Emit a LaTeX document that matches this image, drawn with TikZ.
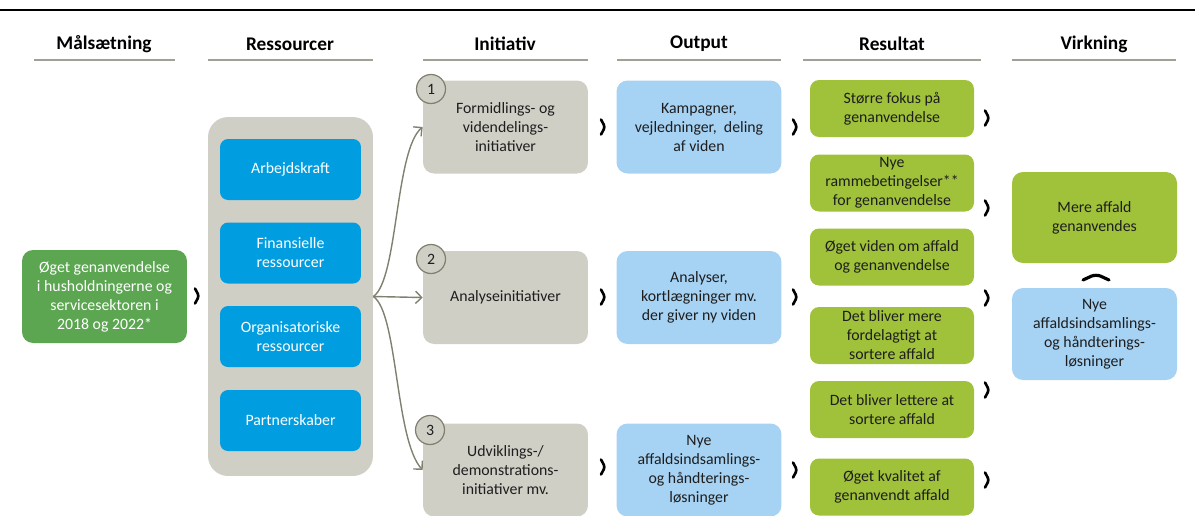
\documentclass[tikz,border=0pt]{standalone}
\usepackage{fontspec}
\setmainfont{Carlito}
\usepackage{xcolor}
\usepackage{tikz}
\usetikzlibrary{arrows.meta}

\definecolor{goalgreen}{RGB}{92,166,82}
\definecolor{boxgrey}{RGB}{208,207,198}
\definecolor{resblue}{RGB}{0,158,224}
\definecolor{outblue}{RGB}{166,210,244}
\definecolor{resgreen}{RGB}{160,193,58}
\definecolor{curvegrey}{RGB}{128,128,112}
\definecolor{rulegrey}{RGB}{160,160,150}
\definecolor{txt}{RGB}{30,30,30}

\tikzset{
  hdr/.style={font=\bfseries\fontsize{11}{13}\selectfont, text=black},
  hdrline/.style={rulegrey, line width=1.3pt},
  card/.style={rounded corners=0.22cm, align=center, inner sep=1pt,
    font=\fontsize{9}{10.8}\selectfont, text=txt, minimum width=3.3cm},
  goalbox/.style={card, fill=goalgreen, text=white, minimum height=1.86cm},
  resbox/.style={card, fill=resblue, text=white, minimum width=2.82cm, minimum height=1.22cm, rounded corners=0.16cm},
  initbox/.style={card, fill=boxgrey, minimum height=1.86cm},
  outbox/.style={card, fill=outblue, minimum height=1.86cm},
  resultbox/.style={card, fill=resgreen, minimum width=3.28cm, minimum height=1.14cm, rounded corners=0.18cm},
  numcirc/.style={circle, fill=boxgrey, draw=curvegrey, line width=0.7pt, minimum size=0.58cm, inner sep=0pt,
    font=\fontsize{9}{10}\selectfont, text=txt},
  fan/.style={curvegrey, line width=0.8pt, -{Straight Barb[length=3.5pt,width=7pt]}},
  chevline/.style={line width=1.5pt, line cap=round, rounded corners=1.5pt},
  pics/chev/.style={code={\draw[chevline] (-2,-7.5) -- (2,0) -- (-2,7.5);}},
  pics/caret/.style={code={\draw[chevline, line width=1.8pt, rounded corners=3pt] (-13,3) -- (0,-3) -- (13,3);}}
}

\begin{document}
\begin{tikzpicture}[x=0.02cm, y=-0.02cm]
\useasboundingbox (0,0) rectangle (1195,515);

\draw[line width=1.2pt] (0,10) -- (1195,10);

\node[hdr] (h1) at (104,44) {Målsætning};
\node[hdr] (h2) at (290,44) {Ressourcer};
\node[hdr] (h3) at (505,44) {Initiativ};
\node[hdr] (h4) at (699,44) {Output};
\node[hdr] (h5) at (892,44) {Resultat};
\node[hdr] (h6) at (1094,44) {Virkning};
\draw[hdrline] (34,60) -- (175,60);
\draw[hdrline] (208,60) -- (373,60);
\draw[hdrline] (423,60) -- (588,60);
\draw[hdrline] (617,60) -- (781,60);
\draw[hdrline] (803,60) -- (981,60);
\draw[hdrline] (1012,60) -- (1176,60);

\node[goalbox] (goal) at (104.5,296.5) {Øget genanvendelse\\i husholdningerne og\\servicesektoren i\\2018 og 2022*};

\node[card, fill=boxgrey, minimum height=7.18cm, rounded corners=0.4cm] (cont) at (290.5,296.5) {};
\node[resbox] (r1) at (290.5,169.5) {Arbejdskraft};
\node[resbox] (r2) at (290.5,253) {Finansielle\\ressourcer};
\node[resbox] (r3) at (290.5,336.5) {Organisatoriske\\ressourcer};
\node[resbox] (r4) at (290.5,420.5) {Partnerskaber};

\node[initbox] (i1) at (505.5,127) {Formidlings- og\\videndelings-\\initiativer};
\node[initbox] (i2) at (505.5,297.5) {Analyseinitiativer};
\node[initbox] (i3) at (505.5,470) {Udviklings-/\\demonstrations-\\initiativer mv.};
\node[numcirc] (n1) at (431,89) {1};
\node[numcirc] (n2) at (431,259) {2};
\node[numcirc] (n3) at (430,430) {3};

\node[outbox] (o1) at (699,127) {Kampagner,\\vejledninger,~ deling\\af viden};
\node[outbox] (o2) at (699,297.5) {Analyser,\\kortlægninger mv.\\der giver ny viden};
\node[outbox] (o3) at (699,470) {Nye\\affaldsindsamlings-\\og håndterings-\\løsninger};

\node[resultbox] (e1) at (892,108.5) {Større fokus på\\genanvendelse};
\node[resultbox] (e2) at (892,183) {Nye\\rammebetingelser**\\for genanvendelse};
\node[resultbox] (e3) at (892,257) {Øget viden om affald\\og genanvendelse};
\node[resultbox] (e4) at (892,335.5) {Det bliver mere\\fordelagtigt at\\sortere affald};
\node[resultbox] (e5) at (892,409.5) {Det bliver lettere at\\sortere affald};
\node[resultbox] (e6) at (892,487) {Øget kvalitet af\\genanvendt affald};

\node[card, fill=resgreen, minimum width=3.3cm, minimum height=1.82cm] (v1) at (1094.5,217.5) {Mere affald\\genanvendes};
\node[outbox, minimum height=1.84cm] (v2) at (1094.5,334) {Nye\\affaldsindsamlings-\\og håndterings-\\løsninger};

\draw[fan] (cont.east) .. controls (398,280) and (395,150) .. (i1.west);
\draw[fan] (cont.east) -- (i2.west);
\draw[fan] (cont.east) .. controls (398,313) and (395,440) .. (i3.west);

\pic at (197,296) {chev};
\pic at (603,127) {chev};
\pic at (603,297) {chev};
\pic at (603,467) {chev};
\pic at (795,127) {chev};
\pic at (795,297) {chev};
\pic at (795,470) {chev};
\pic at (987,118) {chev};
\pic at (987,208) {chev};
\pic at (987,298) {chev};
\pic at (987,390) {chev};
\pic at (987,480) {chev};
\pic at (1096,277) {caret};
\end{tikzpicture}
\end{document}
